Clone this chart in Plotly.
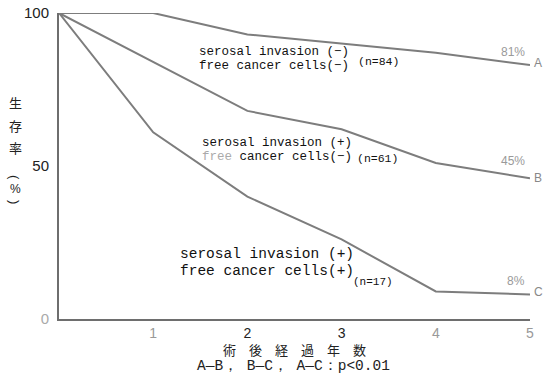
import plotly.graph_objects as go

years = [0, 1, 2, 3, 4, 5]
surv_A = [100, 100, 93, 90, 87, 83]
surv_B = [100, 84, 68, 62, 51, 46]
surv_C = [100, 61, 40, 26, 9, 8]
end_pct = ["81%", "45%", "8%"]
curve_names = ["A", "B", "C"]
x_ticks = [1, 2, 3, 4, 5]
x_tick_text = ["1", "2", "3", "4", "5"]
y_ticks = [0, 50, 100]
y_tick_text = ["0", "50", "100"]

W, H = 550, 380
L, R, T, B = 59, 20, 13, 61
PW, PH = W - L - R, H - T - B

def px(x):
    return (x - L) / PW

def py(y):
    return (H - B - y) / PH

line_col = "#7d7d7d"
fig = go.Figure()
for ys in (surv_A, surv_B, surv_C):
    fig.add_trace(go.Scatter(x=years, y=ys, mode="lines",
                             line=dict(color=line_col, width=2),
                             showlegend=False, hoverinfo="skip"))

mono = "Liberation Mono"
sans = "Liberation Sans"
cjk = "Noto Sans CJK JP"
anns = []

def txt(x, y, s, size, font=mono, color="#111", xanchor="left", angle=0):
    anns.append(dict(x=px(x), y=py(y), xref="paper", yref="paper", text=s,
                     showarrow=False, xanchor=xanchor, yanchor="middle",
                     textangle=angle,
                     font=dict(family=font, size=size, color=color)))

# group labels
txt(197, 52, "serosal invasion (−)", 12.5)
txt(197, 66, "free cancer cells(−)", 12.5)
txt(356, 62, "(n=84)", 11.5)
txt(200, 143, "serosal invasion (+)", 12.5)
txt(200, 157, "<span style='color:#aaa'>free</span> cancer cells(−)", 12.5)
txt(355, 158, "(n=61)", 11.5)
txt(178, 254, "serosal invasion (+)", 14.5)
txt(178, 271, "free cancer cells(+)", 14.5)
txt(351, 282, "(n=17)", 11)

# end labels
ends_y = [(52, 63), (161, 178), (281, 292)]
for (yp, yl), pct, nm in zip(ends_y, end_pct, curve_names):
    txt(527, yp, pct, 12, font=sans, color="#9a9a9a", xanchor="right")
    txt(532, yl, nm, 12, font=sans, color="#888")

# y title (vertical)
ytitle = ["生", "存", "率"]
ypos = [103, 125, 147]
for ch, yy in zip(ytitle, ypos):
    txt(15, yy, ch, 13, font=cjk, color="#222", xanchor="center")
txt(15, 177, "(", 13, font=sans, color="#222", xanchor="center", angle=90)
txt(15, 189, "%", 12, font=sans, color="#222", xanchor="center")
txt(15, 202, ")", 13, font=sans, color="#222", xanchor="center", angle=90)

# x title and footnote
txt(294, 349, "術　後　経　過　年　数", 13, font=cjk, color="#222", xanchor="center")
txt(293, 366, "A—B， B—C， A—C：p&lt;0.01", 14.5, font=mono, color="#222", xanchor="center")

tick_cols_x = ["#999", "#222", "#222", "#999", "#999"]
tick_cols_y = ["#aaa", "#222", "#222"]

fig.update_layout(
    width=W, height=H,
    margin=dict(l=L, r=R, t=T, b=B),
    paper_bgcolor="white", plot_bgcolor="white",
    annotations=anns,
    xaxis=dict(range=[0, 5], showgrid=False, zeroline=False, showline=True,
               linecolor="#6e6e6e", linewidth=2, ticks="", automargin=False,
               tickvals=x_ticks,
               ticktext=[f"<span style='color:{c}'>{t}</span>" for t, c in zip(x_tick_text, tick_cols_x)],
               tickfont=dict(family=sans, size=14, color="#222")),
    yaxis=dict(range=[0, 100], showgrid=False, zeroline=False, showline=True,
               linecolor="#6e6e6e", linewidth=2, ticks="", automargin=False,
               tickvals=y_ticks,
               ticktext=[f"<span style='color:{c}'>{t}</span>" for t, c in zip(y_tick_text, tick_cols_y)],
               tickfont=dict(family=sans, size=15, color="#222"),
               ticklabelstandoff=5),
)
fig.write_html("out.html")
